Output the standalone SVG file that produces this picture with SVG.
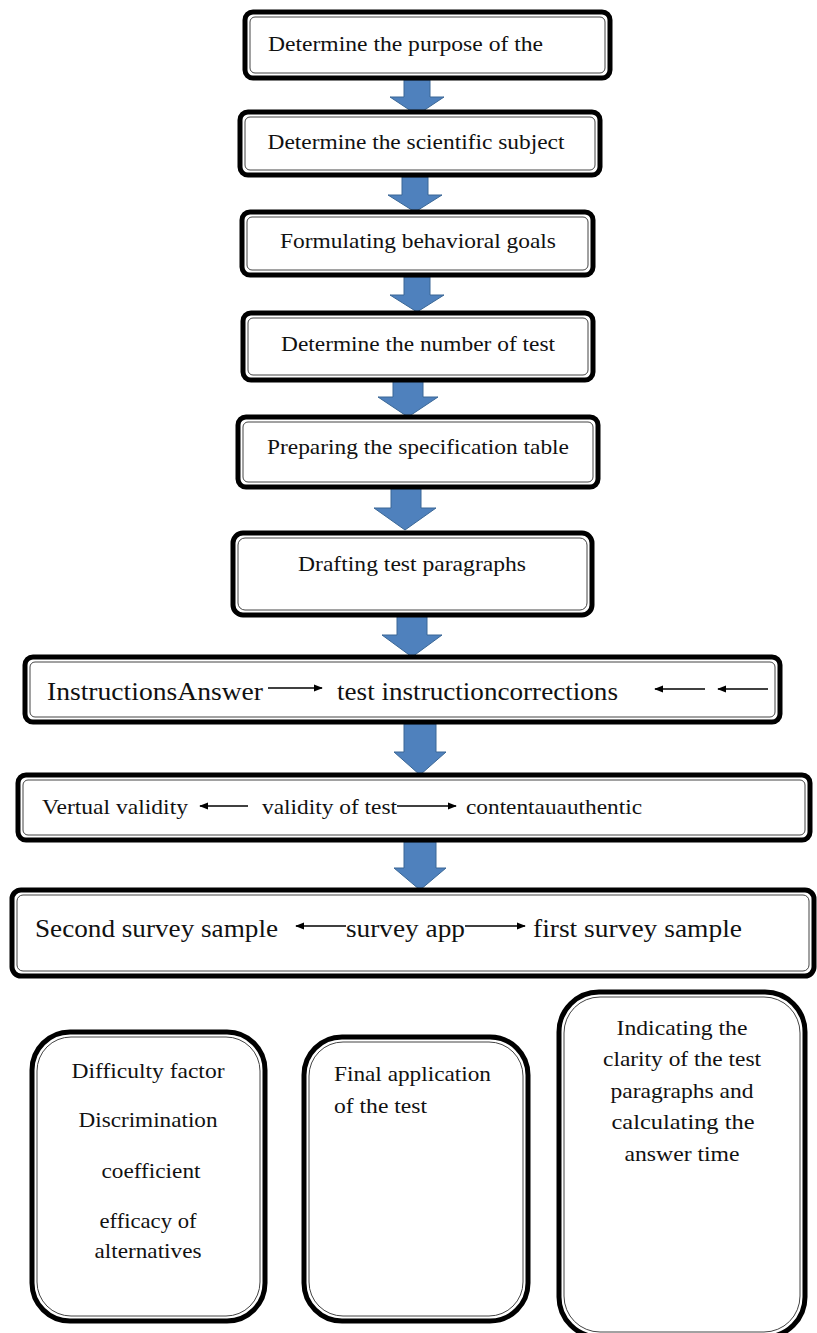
<svg xmlns="http://www.w3.org/2000/svg" width="817" height="1333" viewBox="0 0 817 1333">
<style>
.o{fill:#fff;stroke:#000;stroke-width:5}
.i{fill:none;stroke:#444;stroke-width:1}
.t{font-family:"Liberation Serif","Times New Roman",serif;font-size:22px;fill:#111}
.m{text-anchor:middle}
.l{font-size:25px}
.ba{fill:#4f81bd;stroke:#3a6796;stroke-width:1}
.sa{stroke:#000;stroke-width:1.5;fill:none}
</style>
<defs>
<marker id="ah" viewBox="0 0 10 10" refX="9" refY="5" markerWidth="6" markerHeight="6" orient="auto">
<path d="M0,1 L10,5 L0,9 z" fill="#000"/>
</marker>
</defs>
<rect width="817" height="1333" fill="#fff"/>
<g id="connectors">
<path class="ba" d="M404,80 H430 V97 H444 L417,115 L390,97 H404 Z"/>
<path class="ba" d="M402,177 H428 V195 H442 L415,212 L388,195 H402 Z"/>
<path class="ba" d="M404,277 H430 V295 H444 L417,312 L390,295 H404 Z"/>
<path class="ba" d="M393,381 H423 V397 H438 L408,417 L378,397 H393 Z"/>
<path class="ba" d="M391,488 H421 V508 H436 L405,530 L374,508 H391 Z"/>
<path class="ba" d="M397,616 H427 V635 H442 L412,657 L382,635 H397 Z"/>
<path class="ba" d="M404,724 H436 V752 H446 L420,775 L394,752 H404 Z"/>
<path class="ba" d="M404,842 H436 V868 H446 L420,890 L394,868 H404 Z"/>
</g>
<g id="n1"><rect class="o" x="245" y="12" width="365" height="66" rx="8"/><rect class="i" x="250" y="17" width="355" height="56" rx="5"/><text class="t" x="268" y="51" textLength="275" lengthAdjust="spacingAndGlyphs">Determine the purpose of the</text></g>
<g id="n2"><rect class="o" x="240" y="112" width="360" height="63" rx="8"/><rect class="i" x="245" y="117" width="350" height="53" rx="5"/><text class="t m" x="416" y="149" textLength="297" lengthAdjust="spacingAndGlyphs">Determine the scientific subject</text></g>
<g id="n3"><rect class="o" x="242" y="212" width="351" height="63" rx="8"/><rect class="i" x="247" y="217" width="341" height="53" rx="5"/><text class="t m" x="418" y="248" textLength="276" lengthAdjust="spacingAndGlyphs">Formulating behavioral goals</text></g>
<g id="n4"><rect class="o" x="243" y="313" width="350" height="67" rx="8"/><rect class="i" x="248" y="318" width="340" height="57" rx="5"/><text class="t m" x="418" y="351" textLength="274" lengthAdjust="spacingAndGlyphs">Determine the number of test</text></g>
<g id="n5"><rect class="o" x="238" y="417" width="360" height="70" rx="8"/><rect class="i" x="243" y="422" width="350" height="60" rx="5"/><text class="t m" x="418" y="454" textLength="302" lengthAdjust="spacingAndGlyphs">Preparing the specification table</text></g>
<g id="n6"><rect class="o" x="233" y="533" width="359" height="82" rx="10"/><rect class="i" x="238" y="538" width="349" height="72" rx="7"/><text class="t m" x="412" y="571" textLength="228" lengthAdjust="spacingAndGlyphs">Drafting test paragraphs</text></g>
<g id="n7"><rect class="o" x="25" y="657" width="755" height="65" rx="8"/><rect class="i" x="30" y="662" width="745" height="55" rx="5"/>
<text class="t l" x="47" y="700" textLength="216" lengthAdjust="spacingAndGlyphs">InstructionsAnswer</text>
<line class="sa" x1="268" y1="688" x2="322" y2="688" marker-end="url(#ah)"/>
<text class="t l" x="337" y="700" textLength="281" lengthAdjust="spacingAndGlyphs">test instructioncorrections</text>
<line class="sa" x1="705" y1="689" x2="655" y2="689" marker-end="url(#ah)"/>
<line class="sa" x1="768" y1="689" x2="718" y2="689" marker-end="url(#ah)"/>
</g>
<g id="n8"><rect class="o" x="18" y="775" width="792" height="65" rx="8"/><rect class="i" x="23" y="780" width="782" height="55" rx="5"/>
<text class="t" x="42" y="814" textLength="146" lengthAdjust="spacingAndGlyphs">Vertual validity</text>
<line class="sa" x1="248" y1="806" x2="200" y2="806" marker-end="url(#ah)"/>
<text class="t" x="262" y="814" textLength="135" lengthAdjust="spacingAndGlyphs">validity of test</text>
<line class="sa" x1="397" y1="806" x2="456" y2="806" marker-end="url(#ah)"/>
<text class="t" x="466" y="814" textLength="176" lengthAdjust="spacingAndGlyphs">contentauauthentic</text>
</g>
<g id="n9"><rect class="o" x="12" y="890" width="802" height="86" rx="9"/><rect class="i" x="17" y="895" width="792" height="76" rx="6"/>
<text class="t l" x="35" y="937" textLength="243" lengthAdjust="spacingAndGlyphs">Second survey sample</text>
<line class="sa" x1="346" y1="926" x2="296" y2="926" marker-end="url(#ah)"/>
<text class="t l" x="346" y="937" textLength="119" lengthAdjust="spacingAndGlyphs">survey app</text>
<line class="sa" x1="465" y1="926" x2="525" y2="926" marker-end="url(#ah)"/>
<text class="t l" x="533" y="937" textLength="209" lengthAdjust="spacingAndGlyphs">first survey sample</text>
</g>
<g id="nA"><rect class="o" x="32" y="1032" width="233" height="289" rx="38"/><rect class="i" x="37" y="1037" width="223" height="279" rx="34"/>
<text class="t m" x="148" y="1078" textLength="153" lengthAdjust="spacingAndGlyphs">Difficulty factor</text>
<text class="t m" x="148" y="1127" textLength="139" lengthAdjust="spacingAndGlyphs">Discrimination</text>
<text class="t m" x="151" y="1178" textLength="99" lengthAdjust="spacingAndGlyphs">coefficient</text>
<text class="t m" x="148" y="1228" textLength="97" lengthAdjust="spacingAndGlyphs">efficacy of</text>
<text class="t m" x="148" y="1258" textLength="107" lengthAdjust="spacingAndGlyphs">alternatives</text>
</g>
<g id="nB"><rect class="o" x="304" y="1037" width="224" height="284" rx="38"/><rect class="i" x="309" y="1042" width="214" height="274" rx="34"/>
<text class="t" x="334" y="1081" textLength="157" lengthAdjust="spacingAndGlyphs">Final application</text>
<text class="t" x="334" y="1113" textLength="93" lengthAdjust="spacingAndGlyphs">of the test</text>
</g>
<g id="nC"><rect class="o" x="559" y="992" width="246" height="345" rx="40"/><rect class="i" x="564" y="997" width="236" height="335" rx="36"/>
<text class="t m" x="682" y="1035" textLength="131" lengthAdjust="spacingAndGlyphs">Indicating the</text>
<text class="t m" x="682" y="1066" textLength="158" lengthAdjust="spacingAndGlyphs">clarity of the test</text>
<text class="t m" x="682" y="1098" textLength="143" lengthAdjust="spacingAndGlyphs">paragraphs and</text>
<text class="t m" x="683" y="1129" textLength="143" lengthAdjust="spacingAndGlyphs">calculating the</text>
<text class="t m" x="682" y="1161" textLength="115" lengthAdjust="spacingAndGlyphs">answer time</text>
</g>
</svg>
